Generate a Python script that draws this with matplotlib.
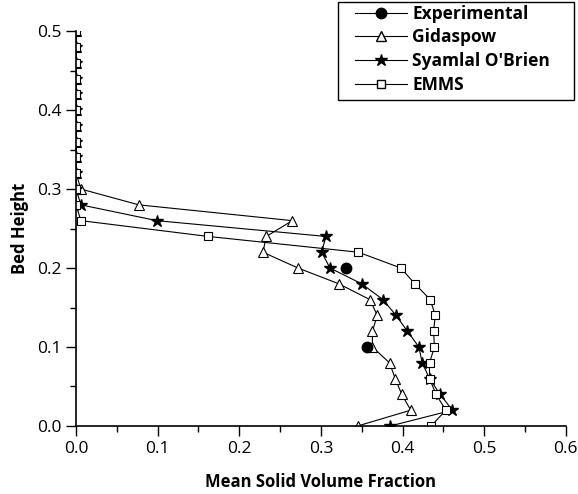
import matplotlib.pyplot as plt
from matplotlib.lines import Line2D
from matplotlib.patches import Rectangle

plt.rcParams['font.family'] = ['Open Sans', 'DejaVu Sans']

# Alturas del lecho (cada 0.02)
altura = [0.00, 0.02, 0.04, 0.06, 0.08, 0.10, 0.12, 0.14, 0.16, 0.18, 0.20,
          0.22, 0.24, 0.26, 0.28, 0.30, 0.32, 0.34, 0.36, 0.38, 0.40,
          0.42, 0.44, 0.46, 0.48, 0.50]

gidaspow = [0.345, 0.410, 0.399, 0.391, 0.384, 0.363, 0.363, 0.369, 0.360, 0.322, 0.272,
            0.229, 0.233, 0.265, 0.077, 0.006, 0.0, 0.0, 0.0, 0.0, 0.0,
            0.0, 0.0, 0.0, 0.0, 0.0]
syamlal = [0.385, 0.461, 0.446, 0.433, 0.424, 0.420, 0.406, 0.392, 0.376, 0.350, 0.311,
           0.301, 0.306, 0.099, 0.006, 0.0, 0.0, 0.0, 0.0, 0.0, 0.0,
           0.0, 0.0, 0.0, 0.0, 0.0]
emms = [0.435, 0.453, 0.441, 0.433, 0.433, 0.439, 0.438, 0.440, 0.434, 0.415, 0.398,
        0.346, 0.162, 0.006, 0.0, 0.0, 0.0, 0.0, 0.0, 0.0, 0.0,
        0.0, 0.0, 0.0, 0.0, 0.0]

exp_x = [0.356, 0.331]
exp_y = [0.10, 0.20]

fig = plt.figure(figsize=(5.78, 4.94), dpi=100)
ax = fig.add_axes([0.1315, 0.1377, 0.8475, 0.7993])

ax.plot(gidaspow, altura, marker='^', mfc='white', color='black', lw=0.8, ms=7, mew=0.8)
ax.plot(syamlal, altura, marker='*', mfc='black', color='black', lw=0.8, ms=9)
ax.plot(emms, altura, marker='s', mfc='white', color='black', lw=0.8, ms=6, mew=0.8)
ax.plot(exp_x, exp_y, ls='none', marker='o', color='black', ms=7.5)

ax.set_xlim(0, 0.6)
ax.set_ylim(0, 0.5)
ax.set_xticks([0.0, 0.1, 0.2, 0.3, 0.4, 0.5, 0.6])
ax.set_xticks([0.05, 0.15, 0.25, 0.35, 0.45, 0.55], minor=True)
ax.set_yticks([0.0, 0.1, 0.2, 0.3, 0.4, 0.5])
ax.set_yticks([0.05, 0.15, 0.25, 0.35, 0.45], minor=True)
ax.tick_params(which='major', direction='out', length=7, width=1, labelsize=12.5)
ax.tick_params(which='minor', direction='out', length=4, width=1)
ax.spines['top'].set_visible(False)
ax.spines['right'].set_visible(False)
ax.spines['left'].set_linewidth(1.2)
ax.spines['bottom'].set_linewidth(1.2)

ax.set_xlabel('Mean Solid Volume Fraction', fontsize=12, fontweight='bold', labelpad=12)
ax.set_ylabel('Bed Height', fontsize=12, fontweight='bold', labelpad=6)

# Marco de la leyenda dibujado aparte
fig.patches.append(Rectangle((0.5848, 0.7976), 0.4083, 0.1984, transform=fig.transFigure,
                             fill=True, facecolor='white', edgecolor='black', lw=1, zorder=5))

handles = [
    Line2D([], [], color='black', lw=0.8, marker='o', ms=7.5),
    Line2D([], [], color='black', lw=0.8, marker='^', mfc='white', ms=7),
    Line2D([], [], color='black', lw=0.8, marker='*', ms=9),
    Line2D([], [], color='black', lw=0.8, marker='s', mfc='white', ms=6),
]
nombres = ['Experimental', 'Gidaspow', "Syamlal O'Brien", 'EMMS']
leg = fig.legend(handles, nombres, loc='upper left', bbox_to_anchor=(0.6142, 0.99),
                 bbox_transform=fig.transFigure,
                 prop={'weight': 'bold', 'size': 12.5}, handlelength=3.0,
                 handletextpad=0.3, labelspacing=0.32, borderpad=0, borderaxespad=0,
                 frameon=False)
leg.set_zorder(6)

plt.savefig('out.png', dpi=100)
